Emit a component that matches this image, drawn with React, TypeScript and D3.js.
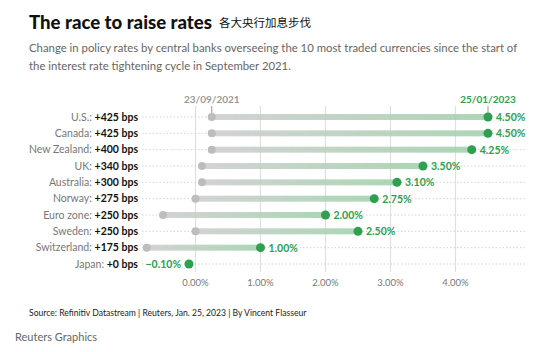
import React from 'react'
import { scaleLinear, scalePoint } from 'd3'

const countries = ['U.S.', 'Canada', 'New Zealand', 'UK', 'Australia', 'Norway', 'Euro zone', 'Sweden', 'Switzerland', 'Japan']
const changes = ['+425 bps', '+425 bps', '+400 bps', '+340 bps', '+300 bps', '+275 bps', '+250 bps', '+250 bps', '+175 bps', '+0 bps']
const startRates = [0.25, 0.25, 0.25, 0.1, 0.1, 0, -0.5, 0, -0.75, -0.1]
const endRates = [4.5, 4.5, 4.25, 3.5, 3.1, 2.75, 2.0, 2.5, 1.0, -0.1]
const xTicks = [0, 1, 2, 3, 4]

const W = 554
const H = 352
const FONT = 'Lato, "Noto Sans", sans-serif'
const GREEN = '#2ea04f'

const App = () => {
    const x = scaleLinear().domain([0, 4]).range([195.5, 455.5])
    const y = scalePoint().domain(countries).range([117, 264])

    const fmt = (v: number) => (v < 0 ? '\u2212' : '') + Math.abs(v).toFixed(2) + '%'

    return (
        <svg width={W} height={H} style={{ position: 'absolute', left: 0, top: 0, background: '#fff' }} fontFamily={FONT}>
            <defs>
                <linearGradient id="barGrad" x1="0" x2="1" y1="0" y2="0">
                    <stop offset="0%" stopColor="#cccccc" />
                    <stop offset="100%" stopColor="#9fcfa9" />
                </linearGradient>
            </defs>

            {/* title */}
            <text x={29} y={29} fontSize={18.6} fontWeight={900} fill="#111">The race to raise rates</text>
            <text x={219} y={27} fontSize={11.5} fill="#111" fontFamily='"Noto Sans CJK SC", sans-serif'>各大央行加息步伐</text>
            <text x={29} y={52} fontSize={11.35} fill="#666">Change in policy rates by central banks overseeing the 10 most traded currencies since the start of</text>
            <text x={29} y={70} fontSize={11.35} fill="#666">the interest rate tightening cycle in September 2021.</text>

            {/* vertical grid */}
            {xTicks.map(t => (
                <g key={t}>
                    <line x1={x(t)} x2={x(t)} y1={106} y2={272} stroke="#e0e0e0" strokeWidth={1.2} />
                    <text x={x(t)} y={286} fontSize={9.5} fill="#777" textAnchor="middle">{fmt(t)}</text>
                </g>
            ))}

            {/* date headers */}
            <text x={x(0.25)} y={103} fontSize={10} fontWeight={700} fill="#999" textAnchor="middle">23/09/2021</text>
            <line x1={x(0.25)} x2={x(0.25)} y1={106} y2={113} stroke="#999" />
            <text x={x(4.5)} y={103} fontSize={10} fontWeight={700} fill={GREEN} textAnchor="middle">25/01/2023</text>
            <line x1={x(4.5)} x2={x(4.5)} y1={106} y2={113} stroke="#999" />

            {countries.map((c, i) => {
                const yy = y(c) as number
                const s = startRates[i]
                const e = endRates[i]
                const x0 = x(Math.min(s, e))
                const x1 = x(Math.max(s, e))
                return (
                    <g key={c}>
                        <line x1={142} x2={525} y1={yy} y2={yy} stroke="#c8c8c8" strokeWidth={0.8} strokeDasharray="1.5,2" />
                        <text x={138} y={yy + 3.5} fontSize={10.5} textAnchor="end">
                            <tspan fill="#777">{c}: </tspan>
                            <tspan fill="#111" fontWeight={700}>{changes[i]}</tspan>
                        </text>
                        {x1 - x0 > 0 && (
                            <rect x={x0} y={yy - 3} width={x1 - x0} height={6} fill="url(#barGrad)" opacity={0.85} />
                        )}
                        {s !== e && <circle cx={x(s)} cy={yy} r={4} fill="#bdbdbd" />}
                        <circle cx={x(e)} cy={yy} r={4.5} fill={GREEN} />
                        {e < 0 ? (
                            <text x={x(e) - 8} y={yy + 4} fontSize={10.5} fontWeight={700} fill={GREEN} textAnchor="end">{fmt(e)}</text>
                        ) : (
                            <text x={x(e) + 8} y={yy + 4} fontSize={10.5} fontWeight={700} fill={GREEN}>{fmt(e)}</text>
                        )}
                    </g>
                )
            })}

            <text x={29} y={316} fontSize={8.6} fill="#222">Source: Refinitiv Datastream | Reuters, Jan. 25, 2023 | By Vincent Flasseur</text>
            <text x={15} y={341} fontSize={11} fill="#666">Reuters Graphics</text>
        </svg>
    )
}

export default App
